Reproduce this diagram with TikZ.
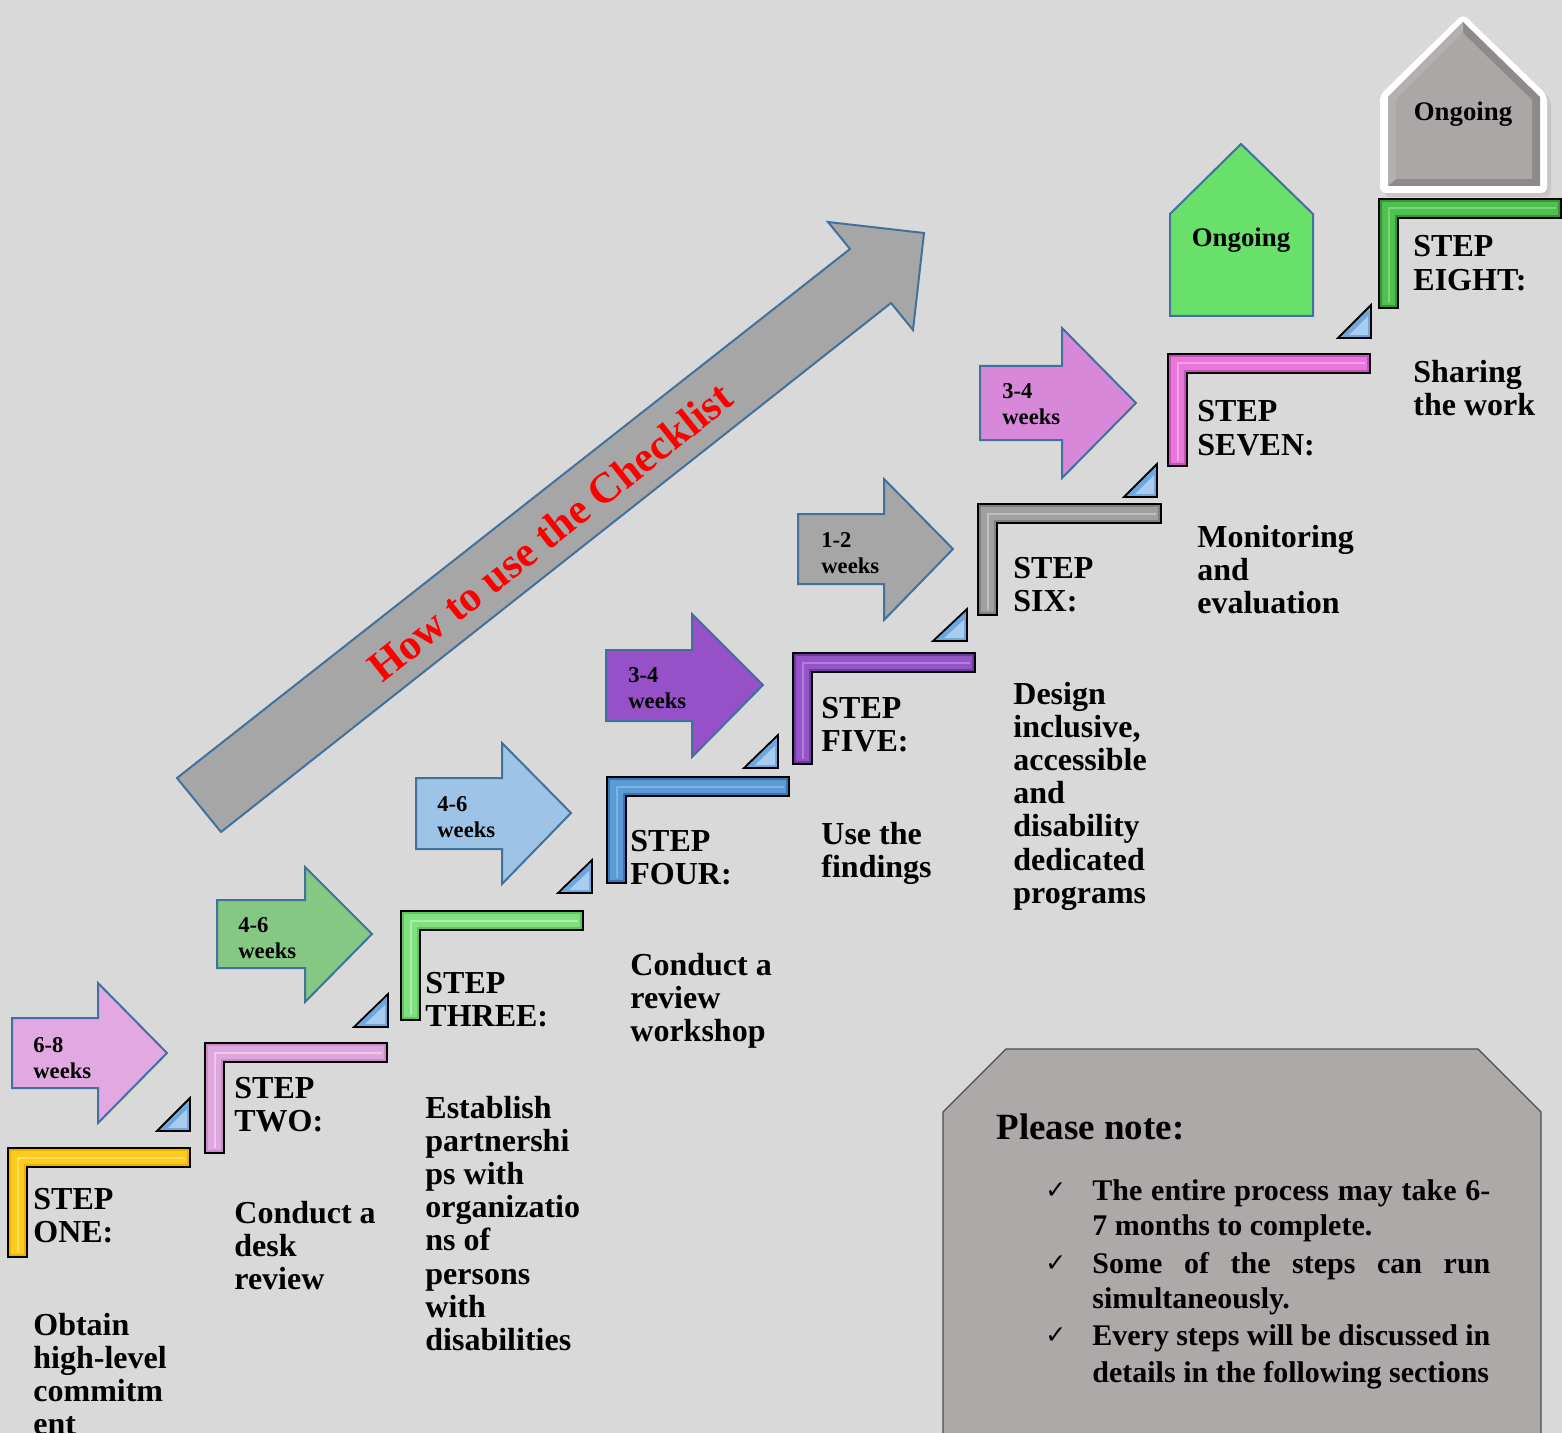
\documentclass[tikz,border=0pt]{standalone}
\usepackage{fontspec}
\setmainfont{Liberation Serif}
\newfontfamily\symfont{DejaVu Sans}
\definecolor{bg}{HTML}{D9D9D9}
\definecolor{edgeblue}{HTML}{41719C}
\definecolor{tribase}{HTML}{6FA6DC}
\definecolor{trihi}{HTML}{A9CDEF}
\definecolor{aone}{HTML}{E1A8E1}
\definecolor{atwo}{HTML}{84C884}
\definecolor{athree}{HTML}{9DC3E6}
\definecolor{afour}{HTML}{9650C8}
\definecolor{afive}{HTML}{A6A6A6}
\definecolor{asix}{HTML}{D888D8}
\definecolor{bigarrow}{HTML}{A6A6A6}
\definecolor{sAa}{HTML}{F0B000}\definecolor{sAb}{HTML}{FFCB1F}\definecolor{sAc}{HTML}{FFDD66}
\definecolor{sBa}{HTML}{C88CC8}\definecolor{sBb}{HTML}{DDA8DD}\definecolor{sBc}{HTML}{EEC6EE}
\definecolor{sCa}{HTML}{5CC85C}\definecolor{sCb}{HTML}{80E080}\definecolor{sCc}{HTML}{A8F0A8}
\definecolor{sDa}{HTML}{3874B4}\definecolor{sDb}{HTML}{5B9BD5}\definecolor{sDc}{HTML}{80B2E4}
\definecolor{sEa}{HTML}{6E3AA2}\definecolor{sEb}{HTML}{9555C8}\definecolor{sEc}{HTML}{AE80DA}
\definecolor{sFa}{HTML}{808080}\definecolor{sFb}{HTML}{A0A0A0}\definecolor{sFc}{HTML}{BEBEBE}
\definecolor{sGa}{HTML}{CC50BC}\definecolor{sGb}{HTML}{E878D8}\definecolor{sGc}{HTML}{F89AEE}
\definecolor{sHa}{HTML}{309A30}\definecolor{sHb}{HTML}{50C050}\definecolor{sHc}{HTML}{78D878}
\definecolor{housegreen}{HTML}{68E06A}
\definecolor{hdark}{HTML}{8E8A8A}
\definecolor{hlight}{HTML}{B4B0B0}
\definecolor{hface}{HTML}{ABA7A7}
\definecolor{notefill}{HTML}{ADA9A8}
\newcommand\ml[1]{\parbox[t]{260pt}{\raggedright #1}}
\newcommand\stepbar[7]{%
  \fill[#5] (#1,#2) -- (#3,#2) -- (#3,#2+19) -- (#1+19,#2+19) -- (#1+19,#4) -- (#1,#4) -- cycle;
  \begin{scope}
    \clip (#1,#2) -- (#3,#2) -- (#3,#2+19) -- (#1+19,#2+19) -- (#1+19,#4) -- (#1,#4) -- cycle;
    \draw[#6, line width=6.5pt] (#1+9.5,#4-3) -- (#1+9.5,#2+9.5) -- (#3-3,#2+9.5);
    \draw[#7, line width=1pt] (#1+9.5,#4-5) -- (#1+9.5,#2+9.5) -- (#3-5,#2+9.5);
  \end{scope}
  \draw[black, line width=1pt, line join=miter] (#1,#2) -- (#3,#2) -- (#3,#2+19) -- (#1+19,#2+19) -- (#1+19,#4) -- (#1,#4) -- cycle;
}
\newcommand\tri[4]{%
  \filldraw[fill=tribase, draw=black, line width=0.9pt, line join=miter] (#1,#4) -- (#2,#4) -- (#2,#3) -- cycle;
  \fill[trihi] (#1+11,#4-3) -- (#2-3,#4-3) -- (#2-3,#3+11) -- cycle;
}
\newcommand\blockarrow[9]{%
  \filldraw[fill=#1, draw=edgeblue, line width=1pt, line join=miter]
    (#2,#3) -- (#5,#3) -- (#5,#6) -- (#8,#9) -- (#5,#7) -- (#5,#4) -- (#2,#4) -- cycle;
}
\begin{document}
\begin{tikzpicture}[x=0.5pt,y=-0.5pt,
  lbl/.style={anchor=base west, inner sep=0, font=\bfseries\fontsize{16}{16.6}\selectfont},
  wk/.style={anchor=base west, inner sep=0, font=\bfseries\fontsize{11.3}{13}\selectfont},
  note/.style={anchor=base west, inner sep=0, font=\bfseries\fontsize{15}{18}\selectfont},
  chk/.style={anchor=base west, inner sep=0, font=\symfont\fontsize{12.5}{14}\selectfont}]
\useasboundingbox (0,0) rectangle (1562,1433);
\fill[bg] (0,0) rectangle (1562,1433);
\clip (0,0) rectangle (1562,1433);

% big arrow
\filldraw[fill=bigarrow, draw=edgeblue, line width=1pt, line join=miter]
  (177,778) -- (850,249) -- (828,222) -- (924,233) -- (913,330) -- (891,303) -- (221,832) -- cycle;
\node[rotate=38.4, inner sep=0, text=red, font=\bfseries\fontsize{21.4}{25}\selectfont] (title) at (550,532) {How to use the Checklist};

% block arrows
\blockarrow{aone}{12}{1018}{1088}{98}{983}{1123}{167}{1053}
\blockarrow{atwo}{217}{900}{968}{305}{867}{1002}{372}{934}
\blockarrow{athree}{416}{778}{849}{502}{743}{884}{571}{813}
\blockarrow{afour}{606}{650}{721}{692}{614}{757}{763}{685}
\blockarrow{afive}{798}{514}{584}{884}{479}{620}{953}{549}
\blockarrow{asix}{980}{366}{440}{1062}{328}{478}{1136}{403}

\node[wk] (w1) at (33,1052) {\ml{6-8\\weeks}};
\node[wk] (w2) at (238,932) {\ml{4-6\\weeks}};
\node[wk] (w3) at (437,811) {\ml{4-6\\weeks}};
\node[wk] (w4) at (628,682) {\ml{3-4\\weeks}};
\node[wk] (w5) at (821,547) {\ml{1-2\\weeks}};
\node[wk] (w6) at (1002,399) {\ml{3-4\\weeks}};

% step brackets
\stepbar{8}{1148}{190}{1257}{sAa}{sAb}{sAc}
\stepbar{205}{1043}{387}{1153}{sBa}{sBb}{sBc}
\stepbar{401}{911}{583}{1020}{sCa}{sCb}{sCc}
\stepbar{607}{777}{789}{883}{sDa}{sDb}{sDc}
\stepbar{793}{653}{975}{764}{sEa}{sEb}{sEc}
\stepbar{978}{504}{1161}{615}{sFa}{sFb}{sFc}
\stepbar{1168}{354}{1370}{466}{sGa}{sGb}{sGc}
\stepbar{1379}{199}{1561}{308}{sHa}{sHb}{sHc}

% small triangles
\tri{157}{190}{1098}{1131}
\tri{354}{388}{994}{1027}
\tri{558}{592}{860}{893}
\tri{744}{778}{735}{768}
\tri{933}{967}{609}{641}
\tri{1124}{1157}{464}{497}
\tri{1338}{1371}{305}{338}

% step labels
\node[lbl] (s1) at (33,1209) {\ml{STEP\\ONE:}};
\node[lbl] (s2) at (234,1098) {\ml{STEP\\TWO:}};
\node[lbl] (s3) at (425,993) {\ml{STEP\\THREE:}};
\node[lbl] (s4) at (630,851) {\ml{STEP\\FOUR:}};
\node[lbl] (s5) at (821,718) {\ml{STEP\\FIVE:}};
\node[lbl] (s6) at (1013,578) {\ml{STEP\\SIX:}};
\node[lbl] (s7) at (1197,422) {\ml{STEP\\SEVEN:}};
\node[lbl] (s8) at (1413,257) {\ml{STEP\\EIGHT:}};

% descriptions
\node[lbl] (d1) at (33,1335) {\ml{Obtain\\high-level\\commitm\\ent}};
\node[lbl] (d2) at (234,1223) {\ml{Conduct a\\desk\\review}};
\node[lbl] (d3) at (425,1118) {\ml{Establish\\partnershi\\ps with\\organizatio\\ns of\\persons\\with\\disabilities}};
\node[lbl] (d4) at (630,975) {\ml{Conduct a\\review\\workshop}};
\node[lbl] (d5) at (821,844) {\ml{Use the\\findings}};
\node[lbl] (d6) at (1013,704) {\ml{Design\\inclusive,\\accessible\\and\\disability\\dedicated\\programs}};
\node[lbl] (d7) at (1197,547) {\ml{Monitoring\\and\\evaluation}};
\node[lbl] (d8) at (1413,382) {\ml{Sharing\\the work}};

% houses
\filldraw[fill=housegreen, draw=edgeblue, line width=1pt, line join=miter]
  (1170,316) -- (1313,316) -- (1313,214) -- (1241,144) -- (1170,214) -- cycle;
\node[anchor=base, inner sep=0, font=\bfseries\fontsize{13.4}{15}\selectfont] (on1) at (1241,247) {Ongoing};

\fill[black!22, rounded corners=3pt] (1384,197) -- (1551,197) -- (1551,99) -- (1467,18) -- (1384,99) -- cycle;
\fill[white, rounded corners=3pt] (1380,193) -- (1547,193) -- (1547,95) -- (1463,14) -- (1380,95) -- cycle;
\fill[hdark] (1388,186) -- (1540,186) -- (1540,97) -- (1463,22) -- (1388,97) -- cycle;
\fill[hlight] (1388,186) -- (1388,97) -- (1463,22) -- (1463,33) -- (1396,100) -- (1396,179) -- cycle;
\fill[hface] (1396,179) -- (1532,179) -- (1532,100) -- (1463,33) -- (1396,100) -- cycle;
\node[anchor=base, inner sep=0, font=\bfseries\fontsize{13.4}{15}\selectfont] (on2) at (1463,121) {Ongoing};

% note box
\filldraw[fill=notefill, draw=black!70, line width=0.6pt]
  (943,1445) -- (943,1112) -- (1006,1049) -- (1478,1049) -- (1541,1112) -- (1541,1445);
\node[anchor=base west, inner sep=0, font=\bfseries\fontsize{18.5}{22}\selectfont] (pn) at (996,1139) {Please note:};
\node[chk] (c1) at (1045,1198) {✓};
\node[chk] (c2) at (1045,1271) {✓};
\node[chk] (c3) at (1045,1343) {✓};
\node[note] (b1) at (1092,1200) {\makebox[199pt][s]{The entire process may take 6-}};
\node[note] (b2) at (1092,1235) {7 months to complete.};
\node[note] (b3) at (1092,1273) {\makebox[199pt][s]{Some of the steps can run}};
\node[note] (b4) at (1092,1308) {simultaneously.};
\node[note] (b5) at (1092,1345) {\makebox[199pt][s]{Every steps will be discussed in}};
\node[note] (b6) at (1092,1382) {details in the following sections};
\end{tikzpicture}
\end{document}
